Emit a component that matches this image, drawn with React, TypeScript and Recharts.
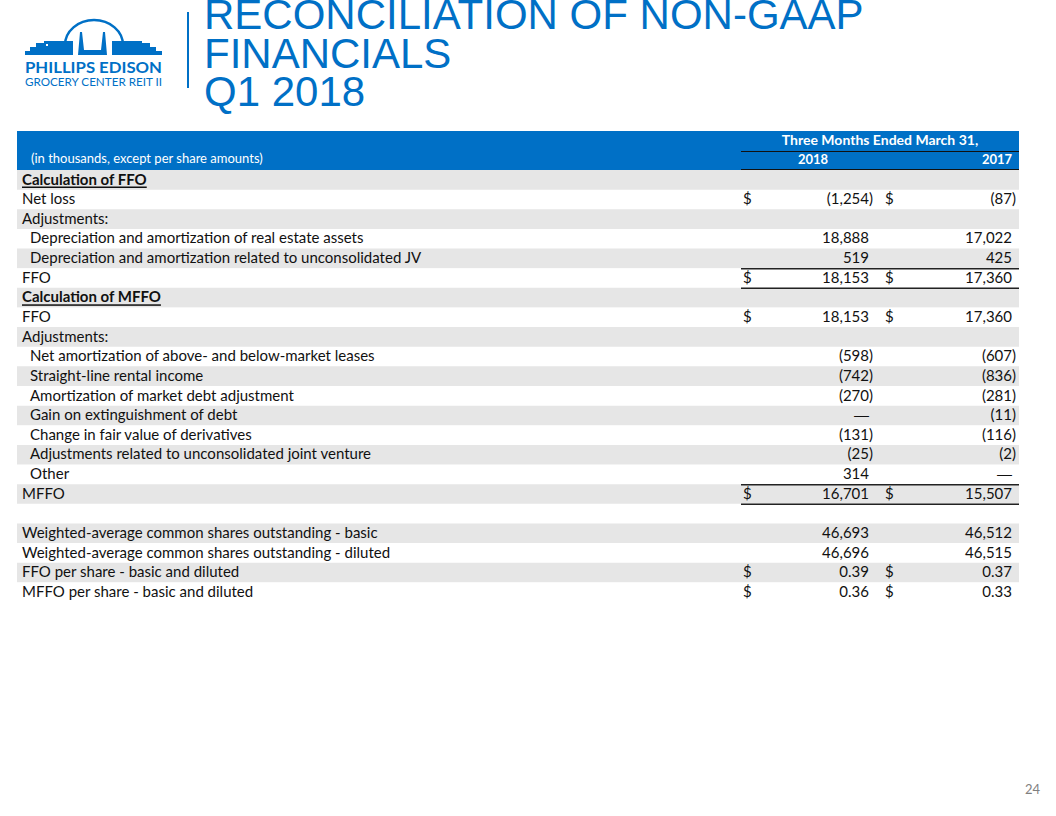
import React from 'react'
import { ComposedChart, Bar, Cell, XAxis, YAxis, LabelList } from 'recharts'

const rowLabels = [
  'Calculation of FFO',
  'Net loss',
  'Adjustments:',
  'Depreciation and amortization of real estate assets',
  'Depreciation and amortization related to unconsolidated JV',
  'FFO',
  'Calculation of MFFO',
  'FFO',
  'Adjustments:',
  'Net amortization of above- and below-market leases',
  'Straight-line rental income',
  'Amortization of market debt adjustment',
  'Gain on extinguishment of debt',
  'Change in fair value of derivatives',
  'Adjustments related to unconsolidated joint venture',
  'Other',
  'MFFO',
  '',
  'Weighted-average common shares outstanding - basic',
  'Weighted-average common shares outstanding - diluted',
  'FFO per share - basic and diluted',
  'MFFO per share - basic and diluted',
]

const values2018: (number | null)[] = [
  null, -1254, null, 18888, 519, 18153, null, 18153, null, -598, -742, -270, 0, -131, -25, 314, 16701, null, 46693, 46696, 0.39, 0.36,
]
const values2017: (number | null)[] = [
  null, -87, null, 17022, 425, 17360, null, 17360, null, -607, -836, -281, -11, -116, -2, 0, 15507, null, 46512, 46515, 0.37, 0.33,
]

const dollarRows = [1, 5, 7, 16, 20, 21]
const indentRows = [3, 4, 9, 10, 11, 12, 13, 14, 15]
const headingRows = [0, 6]
const totalRows = [5, 16]
const perShareRows = [20, 21]

const yearLabels = ['2018', '2017']

const BLUE = '#0070c6'
const FONT = 'Lato, "Open Sans", sans-serif'

const rows = rowLabels.map((label, i) => ({ i, label, band: 1 }))

function fmt(v: number, decimals: number) {
  return Math.abs(v).toLocaleString('en-US', { minimumFractionDigits: decimals, maximumFractionDigits: decimals })
}

function Amount({ v, right, cy, decimals }: { v: number | null; right: number; cy: number; decimals: number }) {
  if (v === null) return null
  if (v === 0) {
    return (
      <text x={right} y={cy} textAnchor="end" dominantBaseline="central" fontSize={15} fill="#111" fontFamily='"Liberation Sans", sans-serif'>
        —
      </text>
    )
  }
  return (
    <g>
      <text x={right} y={cy} textAnchor="end" dominantBaseline="central" fontSize={15} fill="#111">
        {v < 0 ? '(' : ''}{fmt(v, decimals)}
      </text>
      {v < 0 && (
        <text x={right} y={cy} dominantBaseline="central" fontSize={15} fill="#111">)</text>
      )}
    </g>
  )
}

function RowCell(props: any) {
  const { x, y, width, height, value } = props
  const i = Number(value)
  const cy = y + height / 2 - 1.5
  const isHeading = headingRows.includes(i)
  const dec = perShareRows.includes(i) ? 2 : 0
  const colLeft = x + 724
  const right = x + width
  return (
    <g fontFamily={FONT}>
      <text
        x={x + (indentRows.includes(i) ? 13 : 5)}
        y={cy}
        dominantBaseline="central"
        fontSize={15}
        fontWeight={isHeading ? 700 : 400}
        style={isHeading ? { textDecoration: 'underline' } : undefined}
        fill="#111"
      >
        {rowLabels[i]}
      </text>
      {dollarRows.includes(i) && (
        <>
          <text x={x + 726} y={cy} dominantBaseline="central" fontSize={15} fill="#111">$</text>
          <text x={x + 868} y={cy} dominantBaseline="central" fontSize={15} fill="#111">$</text>
        </>
      )}
      <Amount v={values2018[i]} right={x + 852} cy={cy} decimals={dec} />
      <Amount v={values2017[i]} right={x + 995} cy={cy} decimals={dec} />
      {totalRows.includes(i) && (
        <>
          <line x1={colLeft} x2={right} y1={y + 0.5} y2={y + 0.5} stroke="#222" strokeWidth={1.5} />
          <line x1={colLeft} x2={right} y1={y + height} y2={y + height} stroke="#222" strokeWidth={1.5} />
        </>
      )}
    </g>
  )
}

function Logo() {
  return (
    <svg width={180} height={100} style={{ position: 'absolute', left: 0, top: 0 }}>
      <path d="M 65 45 A 29 25 0 0 1 123 45" fill="none" stroke={BLUE} strokeWidth={2.5} />
      <polygon
        points="25,55 25,51 30,51 30,47 36,47 36,43 44,43 44,41 73,41 73,55"
        fill={BLUE}
      />
      <rect x={46} y={44} width={2} height={2} fill="#fff" />
      <polygon points="78,55 80,32 82,32 84,50 101,50 103,32 105,32 107,55" fill={BLUE} />
      <polygon
        points="112,55 112,41 142,41 142,43 150,43 150,47 156,47 156,51 162,51 162,55"
        fill={BLUE}
      />
      <text x={25} y={73} fontFamily={FONT} fontWeight={700} fontSize={15} fill={BLUE} textLength={137} lengthAdjust="spacingAndGlyphs">
        PHILLIPS EDISON
      </text>
      <text x={25} y={86} fontFamily={FONT} fontSize={11.5} fill={BLUE} textLength={137} lengthAdjust="spacingAndGlyphs">
        GROCERY CENTER REIT II
      </text>
    </svg>
  )
}

export default function App() {
  return (
    <div style={{ position: 'relative', width: 1056, height: 816, background: '#fff', overflow: 'hidden', fontFamily: FONT }}>
      <style>{'body{margin:0}'}</style>
      <Logo />
      <div style={{ position: 'absolute', left: 187, top: 12, width: 1.5, height: 76, background: BLUE }} />
      <div
        style={{
          position: 'absolute',
          left: 204,
          top: -4,
          fontFamily: '"Liberation Sans", Arial, sans-serif',
          fontSize: 42,
          lineHeight: '38.5px',
          color: BLUE,
        }}
      >
        RECONCILIATION OF NON-GAAP
        <br />
        FINANCIALS
        <br />
        Q1 2018
      </div>

      <div style={{ position: 'absolute', left: 17, top: 131, width: 1002, height: 39, background: BLUE, color: '#fff' }}>
        <div style={{ position: 'absolute', left: 14, top: 19, fontSize: 13 }}>(in thousands, except per share amounts)</div>
        <div style={{ position: 'absolute', left: 724, width: 278, top: 0, textAlign: 'center', fontSize: 14, fontWeight: 700 }}>
          Three Months Ended March 31,
        </div>
        <div style={{ position: 'absolute', left: 724, width: 278, top: 19.5, height: 1.5, background: '#111' }} />
        <div style={{ position: 'absolute', left: 766, width: 60, top: 20, textAlign: 'center', fontSize: 13, fontWeight: 700 }}>
          {yearLabels[0]}
        </div>
        <div style={{ position: 'absolute', left: 950, width: 60, top: 20, textAlign: 'center', fontSize: 13, fontWeight: 700 }}>
          {yearLabels[1]}
        </div>
        <div style={{ position: 'absolute', left: 724, width: 278, top: 38, height: 1.5, background: '#111' }} />
      </div>

      <div style={{ position: 'absolute', left: 17, top: 170 }}>
        <ComposedChart
          width={1002}
          height={432}
          data={rows}
          layout="vertical"
          margin={{ top: 0, right: 0, bottom: 0, left: 0 }}
          barCategoryGap={0}
        >
          <XAxis type="number" domain={[0, 1]} hide />
          <YAxis type="category" dataKey="i" hide />
          <Bar dataKey="band" isAnimationActive={false}>
            {rows.map((r) => (
              <Cell key={r.i} fill={r.i % 2 === 0 ? '#e6e6e6' : '#ffffff'} />
            ))}
            <LabelList dataKey="i" content={(p: any) => <RowCell {...p} />} />
          </Bar>
        </ComposedChart>
      </div>

      <div style={{ position: 'absolute', left: 1025, top: 781, fontSize: 13, color: '#7f7f7f' }}>24</div>
    </div>
  )
}
